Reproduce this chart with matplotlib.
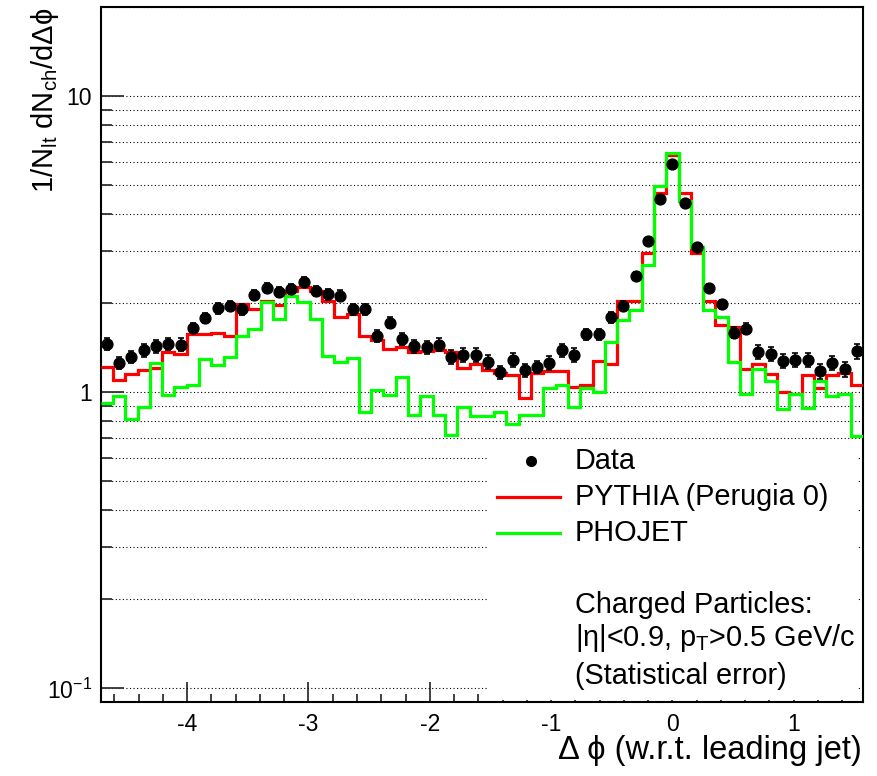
import numpy as np
import matplotlib
matplotlib.use("Agg")
import matplotlib.pyplot as plt
from matplotlib.lines import Line2D
from matplotlib.patches import Rectangle
from matplotlib.ticker import FixedLocator, FixedFormatter, NullFormatter

plt.rcParams['font.family'] = ['Liberation Sans', 'DejaVu Sans']
plt.rcParams['mathtext.default'] = 'regular'

# ---- data (62 bins from -3pi/2 to pi/2) ----
n_bins = 62
data = [1.46, 1.26, 1.32, 1.39, 1.43, 1.46, 1.45, 1.65, 1.78, 1.92,
        1.96, 1.91, 2.13, 2.25, 2.18, 2.23, 2.36, 2.20, 2.14, 2.12,
        1.91, 1.91, 1.55, 1.72, 1.51, 1.43, 1.42, 1.45, 1.32, 1.34,
        1.34, 1.27, 1.17, 1.29, 1.19, 1.22, 1.26, 1.39, 1.34, 1.57,
        1.57, 1.79, 1.96, 2.47, 3.23, 4.49, 5.90, 4.36, 3.09, 2.25,
        1.98, 1.59, 1.64, 1.37, 1.35, 1.28, 1.29, 1.29, 1.18, 1.26,
        1.20, 1.38]
data_err = [0.07, 0.06, 0.06, 0.07, 0.07, 0.07, 0.07, 0.07, 0.07, 0.08,
            0.08, 0.08, 0.08, 0.09, 0.09, 0.09, 0.09, 0.09, 0.09, 0.09,
            0.08, 0.08, 0.07, 0.07, 0.07, 0.07, 0.07, 0.07, 0.07, 0.07,
            0.07, 0.07, 0.06, 0.07, 0.06, 0.06, 0.07, 0.07, 0.07, 0.07,
            0.07, 0.07, 0.07, 0.07, 0.06, 0.06, 0.06, 0.06, 0.06, 0.07,
            0.07, 0.07, 0.07, 0.07, 0.07, 0.07, 0.07, 0.07, 0.07, 0.07,
            0.07, 0.08]
pythia = [1.22, 1.10, 1.15, 1.19, 1.21, 1.37, 1.35, 1.57, 1.57, 1.59,
          1.55, 1.99, 1.91, 2.03, 1.97, 2.20, 2.26, 2.20, 2.04, 1.79,
          1.84, 1.55, 1.50, 1.40, 1.42, 1.37, 1.38, 1.39, 1.37, 1.21,
          1.25, 1.19, 1.16, 1.14, 0.96, 1.16, 1.18, 1.18, 1.04, 1.06,
          1.28, 1.25, 2.04, 2.03, 2.95, 4.70, 6.35, 4.70, 2.95, 2.04,
          1.69, 1.66, 1.20, 1.25, 1.15, 1.00, 0.99, 1.14, 1.03, 1.14,
          1.16, 1.06]
phojet = [0.92, 0.97, 0.81, 0.89, 1.26, 0.98, 1.04, 1.06, 1.30, 1.24,
          1.32, 1.55, 1.63, 2.02, 1.77, 2.12, 2.02, 1.77, 1.33, 1.27,
          1.31, 0.86, 1.02, 0.98, 1.13, 0.84, 0.97, 0.84, 0.72, 0.89,
          0.83, 0.83, 0.855, 0.78, 0.84, 0.84, 1.03, 1.06, 0.89, 1.03,
          1.00, 1.48, 1.76, 1.90, 2.70, 4.97, 6.44, 4.42, 3.10, 1.90,
          1.80, 1.27, 0.985, 1.20, 1.09, 0.876, 0.985, 0.887, 1.09, 0.973,
          0.985, 0.71]

x_ticks = [-4, -3, -2, -1, 0, 1]
x_tick_labels = ['-4', '-3', '-2', '-1', '0', '1']
y_major = [0.1, 1, 10]
y_major_labels = ['10$^{-1}$', '1', '10']

edges = np.linspace(-1.5 * np.pi, 0.5 * np.pi, n_bins + 1)
centers = 0.5 * (edges[:-1] + edges[1:])

W, H = 877, 776
fig = plt.figure(figsize=(W / 100, H / 100), dpi=100)
ax = fig.add_axes([100.7 / W, 1 - 702 / H, (863 - 100.7) / W, (702 - 7) / H])

ax.set_yscale('log')
ax.set_xlim(-1.5 * np.pi, 0.5 * np.pi)
ax.set_ylim(0.09, 20)

minor_vals = [m * 10.0 ** e for e in (-2, -1, 0, 1) for m in range(2, 10)]
ax.yaxis.set_major_locator(FixedLocator(y_major))
ax.yaxis.set_major_formatter(FixedFormatter(y_major_labels))
ax.yaxis.set_minor_locator(FixedLocator(minor_vals))
ax.yaxis.set_minor_formatter(NullFormatter())
ax.xaxis.set_major_locator(FixedLocator(x_ticks))
ax.xaxis.set_major_formatter(FixedFormatter(x_tick_labels))
ax.xaxis.set_minor_locator(FixedLocator(np.round(np.arange(-4.6, 1.61, 0.2), 2)))
ax.set_axisbelow(True)
ax.yaxis.grid(True, which='both', linestyle=(0, (1, 2.2)), color='black', linewidth=0.8)

ax.tick_params(axis='both', which='both', direction='in', top=False, right=False,
               color='#333333', width=1.3)
ax.tick_params(axis='y', which='major', length=16.5, pad=6.5, labelsize=16.5)
ax.tick_params(axis='y', which='minor', length=8)
ax.tick_params(axis='x', which='major', length=14.5, pad=8, labelsize=16.5)
ax.tick_params(axis='x', which='minor', length=6)
for s in ax.spines.values():
    s.set_linewidth(1.5)

# white box behind legend / text
ax.add_patch(Rectangle((487 / W, 1 - 700 / H), (857 - 487) / W, (700 - 442) / H,
                       transform=fig.transFigure, facecolor='white', edgecolor='none',
                       zorder=1.5))

# histograms
ax.stairs(pythia, edges, color='#ff0000', linewidth=2.3, baseline=None, zorder=3)
ax.stairs(phojet, edges, color='#00ff00', linewidth=2.3, baseline=None, zorder=3.1)

# data
ax.errorbar(centers, data, yerr=data_err, fmt='o', color='black', markersize=7.8,
            elinewidth=1.2, capsize=2.5, capthick=1.2, zorder=4)

# legend (manual)
fs_leg = 20.8
fig.add_artist(Line2D([531 / W], [1 - 461 / H], marker='o', color='black',
                      markersize=7, linestyle='none'))
fig.add_artist(Line2D([497 / W, 560 / W], [1 - 497 / H] * 2, color='#ff0000', linewidth=2.3))
fig.add_artist(Line2D([497 / W, 560 / W], [1 - 533 / H] * 2, color='#00ff00', linewidth=2.3))
fig.text(575 / W, 1 - 461 / H, 'Data', fontsize=fs_leg, va='center', ha='left')
fig.text(575 / W, 1 - 497 / H, 'PYTHIA (Perugia 0)', fontsize=fs_leg, va='center', ha='left')
fig.text(575 / W, 1 - 533 / H, 'PHOJET', fontsize=fs_leg, va='center', ha='left')
fig.text(575 / W, 1 - 605 / H, 'Charged Particles:', fontsize=fs_leg, va='center', ha='left')
fig.text(575 / W, 1 - 638 / H, '|η|<0.9, p$_{T}$>0.5 GeV/c', fontsize=fs_leg, va='center', ha='left')
fig.text(575 / W, 1 - 676 / H, '(Statistical error)', fontsize=fs_leg, va='center', ha='left')

# axis titles
fig.text(862 / W, 1 - 750 / H, 'Δ ϕ (w.r.t. leading jet)', fontsize=23.5, ha='right', va='center')
fig.text(45 / W, 1 - 8 / H, '1/N$_{lt}$ dN$_{ch}$/dΔϕ', fontsize=21, rotation=90,
         ha='center', va='top')

fig.savefig('out.png', dpi=100)
